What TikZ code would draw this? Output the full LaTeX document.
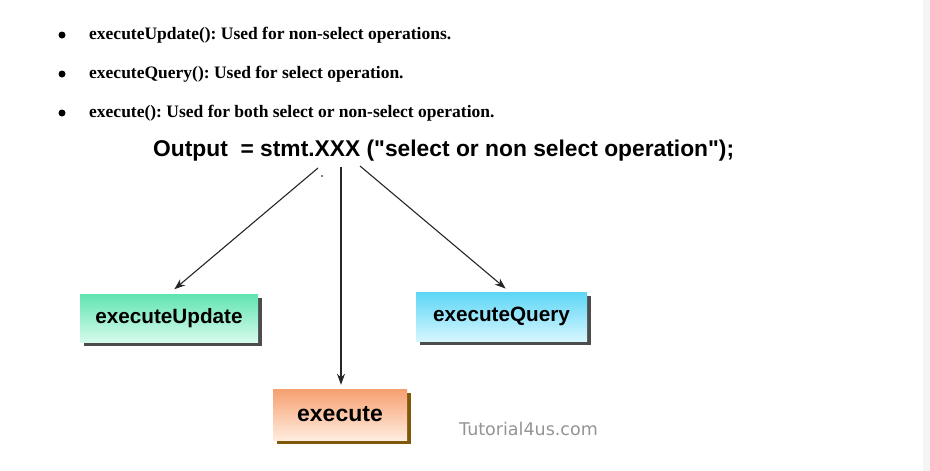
\documentclass[tikz,border=0pt]{standalone}
\usepackage{fontspec}
\setmainfont{Liberation Serif}
\newfontfamily\arialfont{Liberation Sans}
\newfontfamily\verdfont{DejaVu Sans}
\usepackage{tikz}
\usetikzlibrary{arrows.meta, positioning, calc, shadows}
\usepackage[dvipsnames, svgnames]{xcolor}
\frenchspacing

\definecolor{updtop}{RGB}{96,228,176}
\definecolor{updbot}{RGB}{214,251,236}
\definecolor{qrytop}{RGB}{92,214,246}
\definecolor{qrybot}{RGB}{214,246,255}
\definecolor{exetop}{RGB}{246,160,112}
\definecolor{exebot}{RGB}{255,236,222}
\definecolor{exeshadow}{RGB}{128,88,10}

\begin{document}
\begin{tikzpicture}[x=1pt, y=-1pt,
    dotmark/.style={circle, fill=black, inner sep=0pt, minimum size=7pt},
    bullettext/.style={anchor=west, font=\bfseries\fontsize{17.5}{19}\selectfont, inner sep=0pt},
    opbox/.style={rectangle, inner sep=0pt, font=\arialfont\bfseries\fontsize{20.7}{23}\selectfont,
        drop shadow={shadow xshift=3.5pt, shadow yshift=-3.5pt, fill=black!70, opacity=1}},
    call/.style={draw=black!85, line width=1.1pt, -{Stealth[length=11pt, width=8pt]}}]
    \useasboundingbox (0,0) rectangle (930,471);
    \fill[black!4] (923,0) rectangle (930,471);

    % bullet list
    \node[dotmark] (b1) at (62,35) {};
    \node[dotmark] (b2) at (62,74) {};
    \node[dotmark] (b3) at (62,113) {};
    \node[bullettext] (t1) at (89,35) {executeUpdate(): Used for non-select operations.};
    \node[bullettext] (t2) at (89,74) {executeQuery(): Used for select operation.};
    \node[bullettext] (t3) at (89,113) {execute(): Used for both select or non-select operation.};

    % statement
    \node[anchor=west, inner sep=0pt, font=\arialfont\bfseries\fontsize{22.8}{25}\selectfont] (stmt) at (153,151)
        {Output\ \ = stmt.XXX ("select or non select operation");};

    \coordinate (s1) at (318,168);
    \coordinate (s2) at (341,167);
    \coordinate (s3) at (360,166);
    \fill (322,176) circle (0.8);

    % methods
    \node[opbox, top color=updtop, bottom color=updbot, minimum width=178pt, minimum height=48pt] (upd) at (169,318) {executeUpdate};
    \node[opbox, top color=qrytop, bottom color=qrybot, minimum width=171pt, minimum height=49pt] (qry) at (501.5,316.5) {executeQuery};
    \node[opbox, top color=exetop, bottom color=exebot, minimum width=134pt, minimum height=51pt,
        font=\arialfont\bfseries\fontsize{23}{25}\selectfont,
        drop shadow={shadow xshift=3.5pt, shadow yshift=-3.5pt, fill=exeshadow, opacity=1}] (exe) at (340,414.5) {execute};

    \draw[call, shorten >=7pt] (s1) -- (upd.north);
    \draw[call, shorten >=4pt] (s2) -- (exe.north -| s2);
    \draw[call, shorten >=5pt] (s3) -- ($(qry.north)+(8,0)$);

    \node[anchor=west, inner sep=0pt, text=black!42, font=\verdfont\fontsize{17.5}{19}\selectfont] (site) at (459,429) {Tutorial4us.com};
\end{tikzpicture}
\end{document}
